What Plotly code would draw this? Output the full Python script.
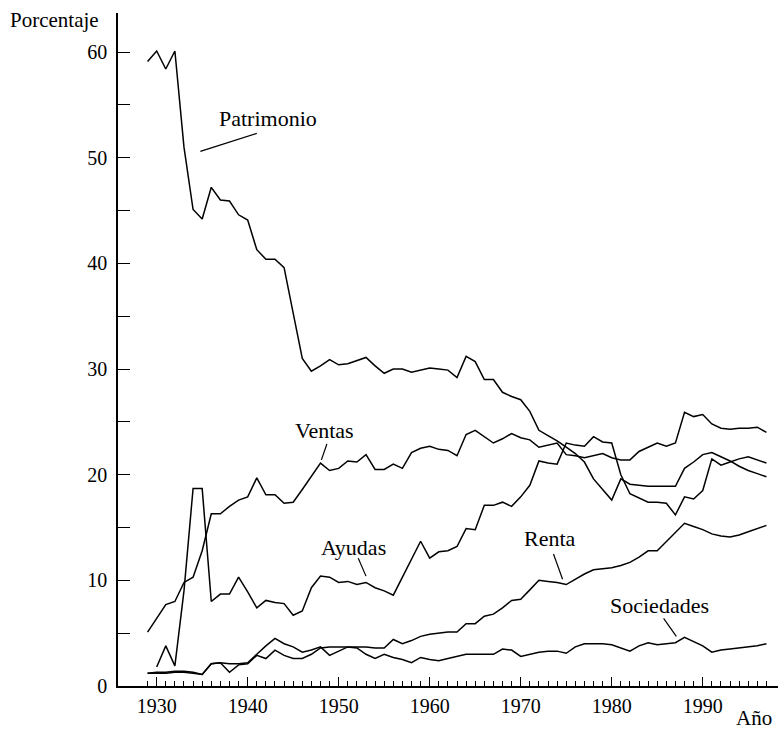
import plotly.graph_objects as go

years = list(range(1929, 1998))

patrimonio = [59.1, 60.1, 58.4, 60.1, 51.0, 45.1, 44.2, 47.2, 46.0, 45.9,
              44.6, 44.1, 41.3, 40.4, 40.4, 39.6, 35.3, 31.0, 29.8, 30.3,
              30.9, 30.4, 30.5, 30.8, 31.1, 30.3, 29.6, 30.0, 30.0, 29.7,
              29.9, 30.1, 30.0, 29.9, 29.2, 31.2, 30.7, 29.0, 29.0, 27.8,
              27.4, 27.1, 26.0, 24.2, 23.7, 23.2, 22.6, 22.0, 21.2, 19.6,
              18.6, 17.6, 19.6, 19.1, 19.0, 18.9, 18.9, 18.9, 18.9, 20.6,
              21.2, 21.9, 22.1, 21.7, 21.3, 20.8, 20.4, 20.1, 19.8]

ventas = [5.1, 6.4, 7.7, 8.0, 9.8, 10.3, 12.8, 16.3, 16.3, 17.0,
          17.6, 17.9, 19.7, 18.1, 18.1, 17.3, 17.4, 18.6, 19.9, 21.1,
          20.4, 20.6, 21.3, 21.2, 21.9, 20.5, 20.5, 21.0, 20.6, 22.1,
          22.5, 22.7, 22.4, 22.3, 21.8, 23.8, 24.2, 23.6, 23.0, 23.4,
          23.9, 23.5, 23.3, 22.6, 22.8, 23.0, 21.9, 21.8, 21.6, 21.8,
          22.0, 21.6, 21.4, 21.4, 22.2, 22.6, 23.0, 22.7, 23.0, 25.9,
          25.5, 25.7, 24.8, 24.4, 24.3, 24.4, 24.4, 24.5, 24.0]

ayudas = [None, 1.8, 3.8, 1.9, 9.0, 18.7, 18.7, 8.0, 8.7, 8.7,
          10.3, 8.9, 7.4, 8.1, 7.9, 7.8, 6.7, 7.1, 9.3, 10.4,
          10.3, 9.8, 9.9, 9.6, 9.8, 9.3, 9.0, 8.6, 10.3, 12.0,
          13.7, 12.1, 12.7, 12.8, 13.2, 14.9, 14.8, 17.1, 17.1, 17.4,
          17.0, 17.9, 19.0, 21.3, 21.1, 21.0, 23.0, 22.8, 22.7, 23.6,
          23.1, 23.0, 20.0, 18.2, 17.8, 17.4, 17.4, 17.3, 16.2, 17.9,
          17.7, 18.5, 21.5, 20.9, 21.2, 21.5, 21.7, 21.4, 21.1]

renta = [1.2, 1.2, 1.2, 1.3, 1.3, 1.2, 1.1, 2.1, 2.2, 1.3,
         2.0, 2.1, 2.9, 2.6, 3.4, 2.9, 2.6, 2.6, 3.0, 3.6,
         3.7, 3.7, 3.7, 3.7, 3.7, 3.6, 3.6, 4.4, 4.0, 4.3,
         4.7, 4.9, 5.0, 5.1, 5.1, 5.9, 5.9, 6.6, 6.8, 7.4,
         8.1, 8.2, 9.1, 10.0, 9.9, 9.8, 9.6, 10.1, 10.6, 11.0,
         11.1, 11.2, 11.4, 11.7, 12.2, 12.8, 12.8, 13.7, 14.5, 15.4,
         15.1, 14.8, 14.4, 14.2, 14.1, 14.3, 14.6, 14.9, 15.2]

sociedades = [1.2, 1.3, 1.3, 1.4, 1.4, 1.3, 1.1, 2.1, 2.2, 2.1,
              2.1, 2.2, 3.0, 3.8, 4.5, 4.0, 3.7, 3.2, 3.4, 3.7,
              2.9, 3.3, 3.7, 3.6, 3.0, 2.6, 3.0, 2.7, 2.5, 2.2,
              2.7, 2.5, 2.4, 2.6, 2.8, 3.0, 3.0, 3.0, 3.0, 3.5,
              3.4, 2.8, 3.0, 3.2, 3.3, 3.3, 3.1, 3.7, 4.0, 4.0,
              4.0, 3.9, 3.6, 3.3, 3.8, 4.1, 3.9, 4.0, 4.1, 4.6,
              4.2, 3.8, 3.2, 3.4, 3.5, 3.6, 3.7, 3.8, 4.0]

series = [("Patrimonio", patrimonio), ("Ventas", ventas), ("Ayudas", ayudas),
          ("Renta", renta), ("Sociedades", sociedades)]

# label text position (year, value) and leader line (from -> to)
labels = {
    "Patrimonio": ((1942.2, 53.7), (1934.8, 50.6), (1941.0, 52.3)),
    "Ventas": ((1948.4, 24.2), (1948.7, 22.9), (1948.1, 21.4)),
    "Ayudas": ((1951.6, 13.1), (1952.15, 12.1), (1953.0, 10.4)),
    "Renta": ((1973.2, 14.0), (1973.6, 12.5), (1974.6, 10.1)),
    "Sociedades": ((1985.3, 7.6), (1985.7, 6.4), (1987.1, 4.7)),
}

x_major = [1930, 1935, 1940, 1945, 1950, 1955, 1960, 1965, 1970, 1975, 1980, 1985, 1990, 1995]
x_major_text = ["1930", "", "1940", "", "1950", "", "1960", "", "1970", "", "1980", "", "1990", ""]
y_ticks = [0, 5, 10, 15, 20, 25, 30, 35, 40, 45, 50, 55, 60]
y_text = ["0", "", "10", "", "20", "", "30", "", "40", "", "50", "", "60"]

FONT = "Liberation Serif"

fig = go.Figure()
for name, vals in series:
    fig.add_trace(go.Scatter(x=years, y=vals, mode="lines", name=name,
                             line=dict(color="black", width=1.5),
                             connectgaps=False, showlegend=False))

for name, (txt, p0, p1) in labels.items():
    fig.add_annotation(x=txt[0], y=txt[1], xref="x", yref="y", text=name,
                       showarrow=False, font=dict(family=FONT, size=22, color="black"))
    fig.add_shape(type="line", xref="x", yref="y", x0=p0[0], y0=p0[1], x1=p1[0], y1=p1[1],
                  line=dict(color="black", width=1.2))

fig.add_annotation(xref="paper", yref="paper", x=-0.167, y=0.99, xanchor="left", yanchor="middle",
                   text="Porcentaje", showarrow=False, font=dict(family=FONT, size=21, color="black"))
fig.add_annotation(xref="paper", yref="paper", x=0.994, y=-0.047, xanchor="right", yanchor="middle",
                   text="Año", showarrow=False, font=dict(family=FONT, size=21, color="black"))

fig.update_layout(
    width=778, height=731,
    margin=dict(l=118, r=0, t=13, b=45),
    paper_bgcolor="white", plot_bgcolor="white",
    xaxis=dict(range=[1925.75, 1998.27], showline=True, linecolor="black", linewidth=1.5,
               showgrid=False, zeroline=False, ticks="inside", ticklen=9, tickwidth=1.3,
               tickcolor="black", tickmode="array", tickvals=x_major, ticktext=x_major_text,
               ticklabelstandoff=1,
               tickfont=dict(family=FONT, size=20, color="black"),
               minor=dict(tickmode="array", tickvals=years, ticks="inside", ticklen=5,
                          tickwidth=1.2, tickcolor="black", showgrid=False)),
    yaxis=dict(range=[0, 63.7], showline=True, linecolor="black", linewidth=1.5,
               showgrid=False, zeroline=False, ticks="inside", ticklen=12, tickwidth=1.3,
               tickcolor="black", tickmode="array", tickvals=y_ticks, ticktext=y_text,
               ticklabelstandoff=5,
               tickfont=dict(family=FONT, size=20, color="black")),
)

fig.write_html("out.html", config={"displayModeBar": False},
               post_script="document.body.style.margin='0px';document.body.style.overflow='hidden';")
